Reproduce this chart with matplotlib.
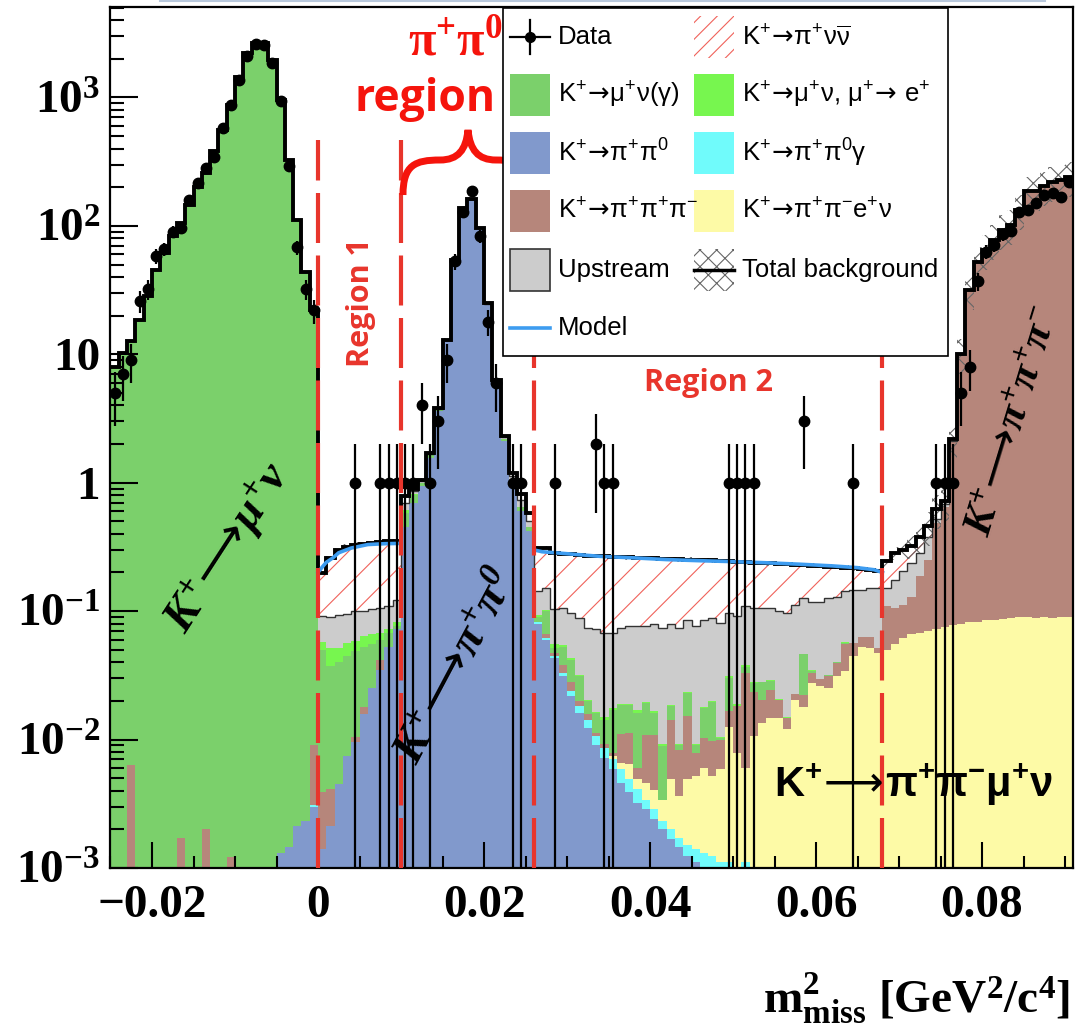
import numpy as np
import matplotlib
matplotlib.use("Agg")
import matplotlib.pyplot as plt
from matplotlib.patches import Rectangle, PathPatch
from matplotlib.path import Path
from matplotlib.lines import Line2D
from matplotlib.ticker import FixedLocator, LogLocator, NullFormatter, MultipleLocator

plt.rcParams['mathtext.default'] = 'regular'
plt.rcParams['hatch.linewidth'] = 0.8

W, H = 1075, 1029

# ---- binning (0.001 GeV^2/c^4 bins) ----
edges = np.linspace(-0.025, 0.091, 117)
centres = 0.5 * (edges[1:] + edges[:-1])

# ---- stacked expectations, one value per bin ----
k_pi2 = [0]*20 + [
    0.0013, 0.00145, 0.0021, 0.0023, 0.0030, 0.0014, 0.0021, 0.0045, 0.0075, 0.0095,
    0.0157, 0.025, 0.035, 0.053, 0.072, 0.45, 0.70, 0.95, 1.55, 3.6,
    12.7, 53.5, 136.5, 161.5, 95.5, 24.6, 6.05, 2.1, 1.0, 0.6,
    0.42, 0.080, 0.060, 0.043, 0.031, 0.022, 0.016, 0.0124, 0.0091, 0.0072,
    0.0059, 0.0046, 0.0039, 0.0032, 0.00285, 0.0024, 0.0020, 0.00166, 0.00144, 0.00124,
    0.0011, 0.0009, 0.0008, 0.0007, 0.0006, 0.0005, 0.0004, 0.0003] + [0]*38

k_pi2g = [0]*24 + [0.0001] + [0]*22 + [0.002, 0.002, 0.002, 0.002] + [
    0.002, 0.002, 0.002, 0.002, 0.002, 0.0023, 0.0019, 0.0016, 0.0014,
    0.0011, 0.0013, 0.0010, 0.0009, 0.00055, 0.00045, 0.0003, 0.00034, 0.00026, 0.00026,
    0.0003, 0.0004, 0.00044, 0.0004, 0.0005, 0.0004, 0.0007, 0.0002] + [0]*38

k_e4 = [0]*60 + [
    0.0004, 0.0007, 0.0015, 0.0008, 0.0012, 0.0012, 0.0011, 0.0029, 0.0019, 0.0034,
    0.0038, 0.0047, 0.004, 0.0048, 0.0115, 0.0069, 0.0049, 0.0102, 0.0135, 0.0148,
    0.0148, 0.012, 0.0205, 0.018, 0.0276, 0.026, 0.025, 0.031, 0.034, 0.0445,
    0.053, 0.0516, 0.047, 0.05, 0.055, 0.062, 0.066, 0.068, 0.070, 0.072,
    0.075, 0.078, 0.08, 0.082, 0.083, 0.085, 0.086, 0.087, 0.088, 0.09,
    0.09, 0.088, 0.09, 0.089, 0.09, 0.09]

k_3pi = [
    0, 0, 0.0063, 0, 0, 0, 0, 0, 0.0017, 0,
    0, 0.0020, 0, 0, 0.0012, 0, 0, 0, 0, 0,
    0, 0, 0, 0, 0.0059, 0.0025, 0.002, 0, 0, 0.001,
    0.0023, 0, 0.007, 0, 0, 0, 0, 0, 0, 0,
    0, 0, 0, 0, 0, 0, 0, 0, 0, 0,
    0, 0.001, 0.004, 0.002, 0.005, 0.004, 0.0017, 0.0014, 0.0006, 0.0007,
    0.0005, 0.0044, 0.0049, 0.0011, 0.0062, 0.0068, 0, 0.0094, 0.0047, 0.0103,
    0.0027, 0.0043, 0.0045, 0.0041, 0.004, 0.0104, 0.027, 0.0128, 0.007, 0.0097,
    0.0057, 0.0028, 0.002, 0.0044, 0.0054, 0.0034, 0.006, 0.0085, 0.021, 0.012,
    0.010, 0.0114, 0.0046, 0.059, 0.051, 0.05, 0.064, 0.119, 0.18, 0.413,
    0.575, 2.02, 10.0, 31.4, 52.4, 64.7, 77.7, 92.7, 101.7, 132.7,
    185.7, 185.7, 202.7, 220.7, 228.7, 241.7]

k_mu2 = [
    8.0, 10.3, 12.6, 18.6, 28.3, 45, 62, 83, 106, 145,
    202, 258, 380, 560, 876, 1450, 2200, 2650, 2650, 1960,
    955, 325, 111, 44, 22, 0.046, 0.0335, 0.036, 0.0376, 0.0385,
    0.035, 0.030, 0.018, 0.015, 0.004, 0.13, 0.10, 0.05, 0.1, 0.1,
    0.15, 0.2, 0.2, 0.2, 0.2, 0.15, 0.1, 0.08, 0.05, 0.05,
    0.03, 0.007, 0.034, 0.005, 0.015, 0.014, 0.011, 0.0042, 0.0047, 0.005,
    0.0092, 0.0077, 0.0074, 0.010, 0.0085, 0.0052, 0.0055, 0.0039, 0.0007, 0.0078,
    0.0012, 0.0074, 0.0098, 0.0002, 0.0134, 0.0002, 0.004, 0.0042, 0.0075, 0.0041,
    0, 0, 0, 0.0236, 0.001, 0.0004, 0.001, 0.0005, 0.001] + [0]*27

k_mu2e = [0]*25 + [
    0.0075, 0.014, 0.011, 0.011, 0.010, 0.011, 0.011, 0.007, 0.004, 0.006,
    0.03, 0.02] + [0]*14 + [
    0.004, 0.002, 0.003, 0.001, 0.001, 0.001, 0.0006, 0.0005, 0.0007, 0.0004,
    0.0003, 0.0003, 0.001, 0.0003, 0.0005, 0.0003, 0.0003, 0.0003, 0.0005, 0.0002,
    0.0003, 0.0005, 0.0003, 0.001, 0.0005, 0.001, 0.0005, 0.0002, 0.0004, 0.0002,
    0.0002, 0.0002, 0.0005, 0.0005, 0, 0, 0.0005, 0.001] + [0]*27

upstream = [0]*25 + [
    0.0335, 0.038, 0.041, 0.039, 0.041, 0.036, 0.037, 0.039, 0.038, 0.041,
    0.08, 0.04, 0.03, 0.03, 0.05, 0.1, 0.2, 0.3, 0.3, 0.2,
    0.1, 0.1, 0.07, 0.07, 0.08, 0.05,
    0.049, 0.049, 0.048, 0.052, 0.054, 0.0565, 0.0535, 0.0555, 0.053, 0.0505,
    0.055, 0.057, 0.060, 0.0574, 0.0635, 0.0648, 0.0615, 0.0647, 0.0625, 0.0677,
    0.068, 0.0685, 0.0705, 0.066, 0.072, 0.071, 0.0775, 0.078, 0.077, 0.079,
    0.082, 0.089, 0.0805, 0.0835, 0.087, 0.095, 0.0895, 0.086, 0.0885, 0.084,
    0.088, 0.099, 0.043, 0.07, 0.092, 0.107, 0.097, 0.13, 0.035, 0.03,
    0.02] + [0]*14

pinunu = [0]*25 + [
    0.109, 0.17, 0.206, 0.223, 0.23, 0.235, 0.237, 0.239, 0.24, 0.227,
    0.10, 0.04, 0.02, 0.02, 0.05, 0.05, 0.1, 0.1, 0.1, 0.1,
    0.1, 0.05, 0.05, 0.07, 0.08, 0.08,
    0.167, 0.159, 0.182, 0.174, 0.183, 0.1865, 0.196, 0.198, 0.20, 0.197,
    0.191, 0.186, 0.183, 0.183, 0.178, 0.182, 0.175, 0.179, 0.166, 0.173,
    0.164, 0.16, 0.165, 0.147, 0.151, 0.131, 0.132, 0.13, 0.129, 0.134,
    0.135, 0.118, 0.101, 0.108, 0.107, 0.095, 0.09, 0.075, 0.07, 0.066,
    0.059, 0.054, 0.092, 0.108, 0.096, 0.083, 0.096, 0.077, 0.10, 0.04,
    0.08] + [0]*14

# relative background uncertainty (cross-hatched band)
bkg_unc = [0.02]*25 + [0.04]*10 + [0.03]*16 + [0.04]*42 + [
    0.10, 0.12, 0.15, 0.20, 0.25, 0.30, 0.30, 0.30, 0.30, 0.30,
    0.30, 0.30, 0.30, 0.30, 0.30, 0.30, 0.30, 0.30, 0.30, 0.30,
    0.30, 0.30, 0.30]

data_counts = [
    5, 7, 9, 26, 32, 58, 66, 90, 96, 159,
    215, 281, 346, 574, 876, 1375, 2085, 2620, 2560, 1855,
    930, 290, 68, 32, 22, 0, 0, 0, 0, 1,
    0, 0, 1, 1, 1, 1, 1, 4, 1, 3,
    9, 53, 129, 186, 83, 18, 6, 0, 1, 1,
    0, 0, 0, 1, 0, 0, 0, 0, 2, 1,
    1, 0, 0, 0, 0, 0, 0, 0, 0, 0,
    0, 0, 0, 0, 1, 1, 1, 1, 0, 0,
    0, 0, 0, 3, 0, 0, 0, 0, 0, 1,
    0, 0, 0, 0, 0, 0, 0, 0, 0, 1,
    1, 1, 5, 8, 37, 63, 71, 86, 92, 129,
    132, 150, 175, 180, 167, 221]

# smooth model curves in the two signal regions
model1_x = [0.0, 0.0005, 0.001, 0.0018, 0.0025, 0.004, 0.006, 0.008, 0.010]
model1_y = [0.20, 0.22, 0.24, 0.26, 0.285, 0.31, 0.33, 0.335, 0.337]
model2_x = [0.026, 0.027, 0.030, 0.034, 0.038, 0.042, 0.046, 0.050, 0.054, 0.058, 0.062, 0.065, 0.067, 0.068]
model2_y = [0.30, 0.29, 0.28, 0.267, 0.26, 0.252, 0.247, 0.243, 0.238, 0.232, 0.225, 0.218, 0.21, 0.20]

region_edges = [0.0, 0.010, 0.026, 0.068]

col_pi2, col_pi2g, col_e4, col_3pi = '#8199cc', '#70fbfb', '#fdfaa6', '#b6867b'
col_mu2, col_mu2e, col_up = '#7bd06b', '#77f64f', '#cccccc'
col_hatch, col_model, col_red = '#f0625a', '#3d9cf0', '#e8352c'

fig = plt.figure(figsize=(W / 100, H / 100), dpi=100)
ax = fig.add_axes([110 / W, 1 - 868 / H, (1073 - 110) / W, (868 - 7) / H])
ax.set_yscale('log')

def fx(px):
    return px / W

def fy(py):
    return 1 - py / H

# stacked histogram
layers = [(k_pi2, col_pi2), (k_pi2g, col_pi2g), (k_e4, col_e4), (k_3pi, col_3pi),
          (k_mu2, col_mu2), (k_mu2e, col_mu2e), (upstream, col_up)]
base = np.full(len(centres), 1e-5)
for vals, col in layers:
    top = base + np.array(vals, dtype=float)
    ax.stairs(top, edges, baseline=base, fill=True, color=col, lw=0)
    base = top
up_top = base.copy()
total = up_top + np.array(pinunu)
ax.stairs(total, edges, baseline=up_top, fill=True, facecolor='none',
          edgecolor=col_hatch, hatch='/', lw=0)
ax.stairs(up_top, edges, baseline=None, color='#333333', lw=1.0)

unc = np.array(bkg_unc)
ax.stairs(total * (1 + unc), edges, baseline=total * (1 - unc), fill=True,
          facecolor='none', edgecolor='#666666', hatch='xx', lw=0)
ax.stairs(total, edges, baseline=None, color='black', lw=2.8)

ax.plot(model1_x, model1_y, color=col_model, lw=2.6)
ax.plot(model2_x, model2_y, color=col_model, lw=2.6)

# data
counts = np.array(data_counts, dtype=float)
m = counts > 0
n = counts[m]
err = np.sqrt(n)
lo = n - np.maximum(n - err, 1e-5)
ax.errorbar(centres[m], n, yerr=[lo, err], fmt='o', color='black', ms=7.5,
            elinewidth=1.6, capsize=0, zorder=5)

# signal region boundaries
for xe in region_edges:
    ax.plot([xe, xe], [1e-3, 470], color=col_red, lw=3.0, dashes=(12, 3), zorder=6)

ax.set_xlim(-0.02506, 0.09096)
ax.set_ylim(0.9999e-3, 5.06e3)

ax.xaxis.set_major_locator(FixedLocator([-0.02, 0, 0.02, 0.04, 0.06, 0.08]))
ax.xaxis.set_minor_locator(MultipleLocator(0.005))
ax.set_xticklabels(['\u22120.02', '0', '0.02', '0.04', '0.06', '0.08'])
ax.yaxis.set_major_locator(FixedLocator([1e-3, 1e-2, 1e-1, 1, 10, 1e2, 1e3]))
ax.yaxis.set_minor_locator(LogLocator(base=10, subs=np.arange(2, 10)))
ax.yaxis.set_minor_formatter(NullFormatter())
ax.set_yticklabels(['10$^{-3}$', '10$^{-2}$', '10$^{-1}$', '1', '10', '10$^{2}$', '10$^{3}$'])
ax.tick_params(which='both', direction='in', top=False, right=False, width=1.5)
ax.tick_params(axis='y', which='major', length=20, pad=7)
ax.tick_params(axis='y', which='minor', length=10)
ax.tick_params(axis='x', which='major', length=19, pad=12)
ax.tick_params(axis='x', which='minor', length=9)
for lab in ax.get_xticklabels() + ax.get_yticklabels():
    lab.set_fontfamily('Liberation Serif')
    lab.set_fontweight('bold')
    lab.set_fontsize(34)
for sp in ax.spines.values():
    sp.set_linewidth(1.6)

fig.text(fx(1070), fy(1013), 'm$^{2}_{miss}$ [GeV$^{2}$/c$^{4}$]', ha='right', va='baseline',
         fontsize=34, fontweight='bold', family='Liberation Serif')

# thin frame line at top of picture
fig.add_artist(Line2D([fx(160), fx(1045)], [fy(1), fy(1)], transform=fig.transFigure,
                      color='#b8c8dc', lw=1.5))

# ---- legend (drawn by hand) ----
def box(x0, y0, x1, y1, **kw):
    r = Rectangle((fx(x0), fy(y1)), (x1 - x0) / W, (y1 - y0) / H,
                  transform=fig.transFigure, **kw)
    fig.add_artist(r)
    return r

AR = '$\\!\\mathrm{\\rightarrow}\\!$'
box(503, 8, 948, 356, facecolor='white', edgecolor='black', lw=1.2, zorder=10)
rows = [37, 95, 153, 211, 270, 328]
c1, c2, t1, t2 = 510, 694, 558, 742
leg_font = dict(fontsize=18.5, family=['Liberation Sans', 'DejaVu Sans'], va='center',
                ha='left', zorder=12)

# Data
fig.add_artist(Line2D([fx(c1), fx(c1 + 40)], [fy(rows[0]), fy(rows[0])],
                      transform=fig.transFigure, color='black', lw=1.6, zorder=11))
fig.add_artist(Line2D([fx(c1 + 20), fx(c1 + 20)], [fy(rows[0] - 17), fy(rows[0] + 17)],
                      transform=fig.transFigure, color='black', lw=1.6, zorder=11))
fig.add_artist(Line2D([fx(c1 + 20)], [fy(rows[0])], transform=fig.transFigure,
                      marker='o', ms=7, color='black', zorder=11))
fig.text(fx(t1), fy(rows[0]), 'Data', **leg_font)

sw = 21
swatches1 = [(col_mu2, 'K$^{+}$' + AR + '\u03bc$^{+}$\u03bd(\u03b3)'),
             (col_pi2, 'K$^{+}$' + AR + '\u03c0$^{+}$\u03c0$^{0}$'),
             (col_3pi, 'K$^{+}$' + AR + '\u03c0$^{+}$\u03c0$^{+}$\u03c0$^{-}$')]
for (col, lab), ry in zip(swatches1, rows[1:4]):
    box(c1, ry - sw, c1 + 40, ry + sw, facecolor=col, lw=0, zorder=11)
    fig.text(fx(t1), fy(ry), lab, **leg_font)
box(c1, rows[4] - sw, c1 + 40, rows[4] + sw, facecolor=col_up, edgecolor='#333333', lw=1.2, zorder=11)
fig.text(fx(t1), fy(rows[4]), 'Upstream', **leg_font)
fig.add_artist(Line2D([fx(c1), fx(c1 + 40)], [fy(rows[5]), fy(rows[5])],
                      transform=fig.transFigure, color=col_model, lw=2.6, zorder=11))
fig.text(fx(t1), fy(rows[5]), 'Model', **leg_font)

box(c2, rows[0] - sw, c2 + 40, rows[0] + sw, facecolor='white', edgecolor=col_hatch,
    hatch='//', lw=0, zorder=11)
fig.text(fx(t2), fy(rows[0]), 'K$^{+}$' + AR + '\u03c0$^{+}$\u03bd$\\overline{\u03bd}$', **leg_font)
swatches2 = [(col_mu2e, 'K$^{+}$' + AR + '\u03bc$^{+}$\u03bd, \u03bc$^{+}$' + AR + ' e$^{+}$'),
             (col_pi2g, 'K$^{+}$' + AR + '\u03c0$^{+}$\u03c0$^{0}$\u03b3'),
             (col_e4, 'K$^{+}$' + AR + '\u03c0$^{+}$\u03c0$^{-}$e$^{+}$\u03bd')]
for (col, lab), ry in zip(swatches2, rows[1:4]):
    box(c2, ry - sw, c2 + 40, ry + sw, facecolor=col, lw=0, zorder=11)
    fig.text(fx(t2), fy(ry), lab, **leg_font)
box(c2, rows[4] - sw, c2 + 40, rows[4] + sw, facecolor='white', edgecolor='#666666',
    hatch='xx', lw=0, zorder=11)
fig.add_artist(Line2D([fx(c2), fx(c2 + 40)], [fy(rows[4]), fy(rows[4])],
                      transform=fig.transFigure, color='black', lw=2.5, zorder=12))
fig.text(fx(t2), fy(rows[4]), 'Total background', **leg_font)

# ---- annotations ----
fig.text(fx(455), fy(43), '\u03c0$^{+}$\u03c0$^{0}$', ha='center', va='center', color='#f5140c',
         fontsize=36, fontweight='bold', family='Liberation Serif')
fig.text(fx(425), fy(99), 'region', ha='center', va='center', color='#f5140c',
         fontsize=32, fontweight='bold', family='Open Sans')
brace = Path([(403, 195), (403, 165), (415, 160), (440, 160), (458, 160), (466, 150), (468, 130),
              (470, 150), (478, 160), (496, 160), (521, 160), (534, 167), (534, 195)],
             [Path.MOVETO] + [Path.CURVE4] * 12)
brace_fig = Path(np.column_stack([fx(brace.vertices[:, 0]), fy(brace.vertices[:, 1])]), brace.codes)
fig.add_artist(PathPatch(brace_fig, transform=fig.transFigure, facecolor='none',
                         edgecolor='#f5140c', lw=5, capstyle='butt'))

fig.text(fx(361), fy(303), 'Region 1', rotation=90, ha='center', va='center', color=col_red,
         fontsize=22, fontweight='bold', family='Open Sans')
fig.text(fx(708), fy(383), 'Region 2', ha='center', va='center', color=col_red,
         fontsize=22, fontweight='bold', family='Open Sans')

LA = '$\\!\\mathrm{\\longrightarrow}\\!$'
rot_font = dict(ha='center', va='center', fontweight='bold', style='italic',
                family='Liberation Serif', rotation_mode='anchor')
fig.text(fx(228), fy(548), 'K$^{+}$' + LA + '\u03bc$^{+}$\u03bd', rotation=57, fontsize=34, **rot_font)
fig.text(fx(458), fy(668), 'K$^{+}$' + LA + '\u03c0$^{+}$\u03c0$^{0}$', rotation=62, fontsize=34, **rot_font)
fig.text(fx(1014), fy(422), 'K$^{+}$' + LA + '\u03c0$^{+}$\u03c0$^{+}$\u03c0$^{-}$', rotation=73,
         fontsize=31, **rot_font)
fig.text(fx(914), fy(785), 'K$^{+}$' + LA + '\u03c0$^{+}$\u03c0$^{-}$\u03bc$^{+}$\u03bd', ha='center',
         va='center', fontsize=30, fontweight='bold', family='Liberation Sans')

fig.savefig('out.png', dpi=100, facecolor='white')
